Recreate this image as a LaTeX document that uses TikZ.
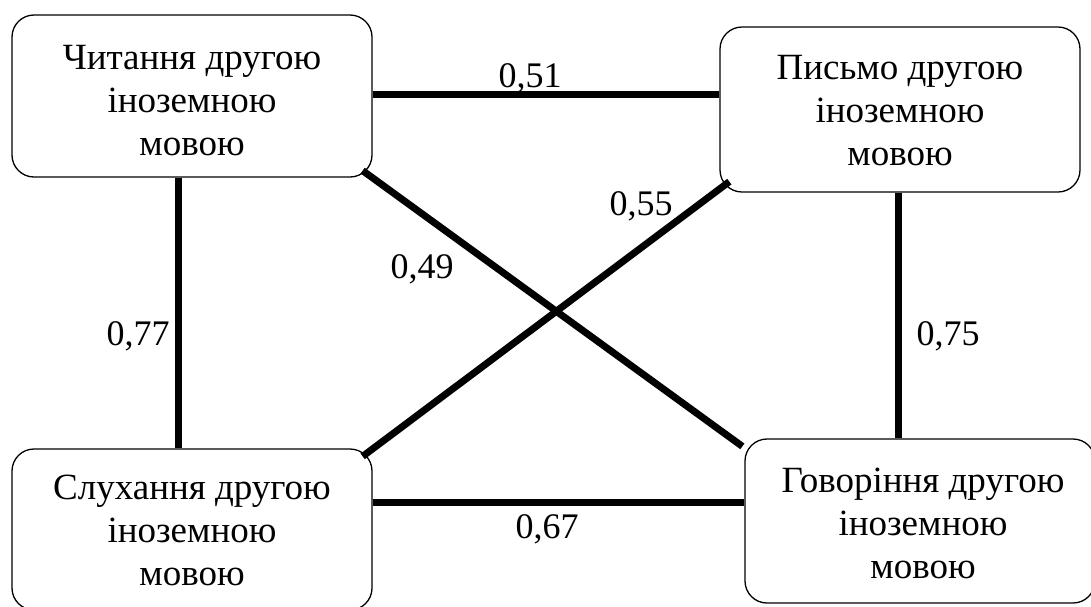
\documentclass[tikz,border=0pt]{standalone}
\usepackage{fontspec}
\setmainfont{Liberation Serif}
\usetikzlibrary{calc}

\tikzset{
  skillbox/.style={draw, line width=1.3pt, rounded corners=22pt, inner sep=0pt},
  skilltext/.style={inner sep=0pt, align=center, font=\fontsize{37}{43}\selectfont},
  link/.style={line width=7pt, line cap=butt},
  coef/.style={anchor=base, inner sep=0pt, font=\fontsize{36}{42}\selectfont}
}

\begin{document}
\begin{tikzpicture}[x=1pt, y=-1pt]
  \useasboundingbox (0,0) rectangle (1091,606);

  % four skill boxes
  \node[skillbox, minimum width=360pt, minimum height=162pt] (tl) at (192,96) {};
  \node[skillbox, minimum width=360pt, minimum height=165pt] (tr) at (900,109.5) {};
  \node[skillbox, minimum width=360pt, minimum height=161pt] (bl) at (192,529.5) {};
  \node[skillbox, minimum width=350pt, minimum height=164pt] (br) at (920,521) {};

  % their captions
  \node[skilltext] (tlt) at ($(tl)+(0,5)$) {Читання другою\\іноземною\\мовою};
  \node[skilltext] (trt) at ($(tr)+(0,1.5)$) {Письмо другою\\іноземною\\мовою};
  \node[skilltext] (blt) at ($(bl)+(0,1)$) {Слухання другою\\іноземною\\мовою};
  \node[skilltext] (brt) at ($(br)+(3,2.5)$) {Говоріння другою\\іноземною\\мовою};

  % correlation links
  \draw[link] ($(tl.east)+(0,-1.5)$) -- ($(tl.east -| tr.west)+(0,-1.5)$);
  \draw[link] ($(tl.south)+(-14,0)$) -- ($(bl.north)+(-14,0)$);
  \draw[link] ($(tr.south)+(-2,0)$) -- ($(tr.south |- br.north)+(-2,0)$);
  \draw[link] ($(bl.east)+(0,-27.5)$) -- ($(bl.east -| br.west)+(0,-27.5)$);
  \draw[link] ($(tl.south east)+(-10,-7)$) -- ($(br.north west)+(-2,8)$);
  \draw[link] ($(bl.north east)+(-10,8)$) -- ($(tr.south west)+(10,-11)$);

  % coefficients
  \node[coef] (c51) at (530,87) {0,51};
  \node[coef] (c77) at (138,345) {0,77};
  \node[coef] (c75) at (948,345) {0,75};
  \node[coef] (c67) at (547,538) {0,67};
  \node[coef] (c49) at (422,278) {0,49};
  \node[coef] (c55) at (641,215) {0,55};
\end{tikzpicture}
\end{document}
